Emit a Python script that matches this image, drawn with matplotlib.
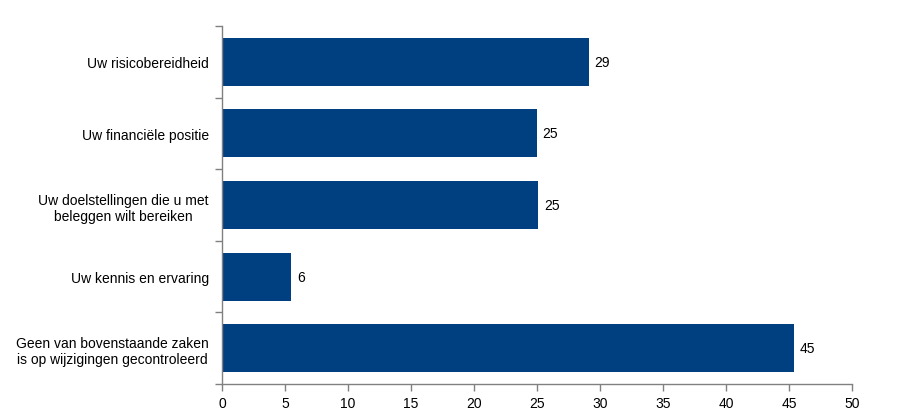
import matplotlib
matplotlib.use("Agg")
import matplotlib.pyplot as plt
from matplotlib.ticker import FixedLocator

categories = [
    "Uw risicobereidheid",
    "Uw financiële positie",
    "Uw doelstellingen die u met\nbeleggen wilt bereiken",
    "Uw kennis en ervaring",
    "Geen van bovenstaande zaken\nis op wijzigingen gecontroleerd",
]
values = [29.1, 25.0, 25.1, 5.5, 45.4]
value_labels = ["29", "25", "25", "6", "45"]
x_ticks = [0, 5, 10, 15, 20, 25, 30, 35, 40, 45, 50]

plt.rcParams['font.family'] = ['Liberation Sans', 'DejaVu Sans']

fig = plt.figure(figsize=(9.17, 4.10), dpi=100)
ax = fig.add_axes([0.2421, 0.061, 0.6870, 0.873])

n = len(categories)
ypos = list(range(n))
ax.barh(ypos, values, height=0.67, color='#003F80')
ax.set_ylim(n - 0.5, -0.5)
ax.set_xlim(0, 50)

for y, v, lab in zip(ypos, values, value_labels):
    ax.text(v + 0.45, y, lab, va='center', ha='left', fontsize=10, color='black')

ax.set_yticks(ypos)
ax.set_yticklabels(categories, fontsize=10, ha='right', multialignment='center')
ax.tick_params(axis='y', length=0, pad=9.5)
ax.yaxis.set_minor_locator(FixedLocator([i - 0.5 for i in range(n + 1)]))
ax.tick_params(axis='y', which='minor', length=5, color='#808080', width=1)

ax.set_xticks(x_ticks)
ax.tick_params(axis='x', length=5, color='#808080', width=1, labelsize=10, pad=4)

for s in ['top', 'right']:
    ax.spines[s].set_visible(False)
for s in ['left', 'bottom']:
    ax.spines[s].set_color('#808080')
    ax.spines[s].set_linewidth(1)

fig.savefig('out.png', dpi=100)
